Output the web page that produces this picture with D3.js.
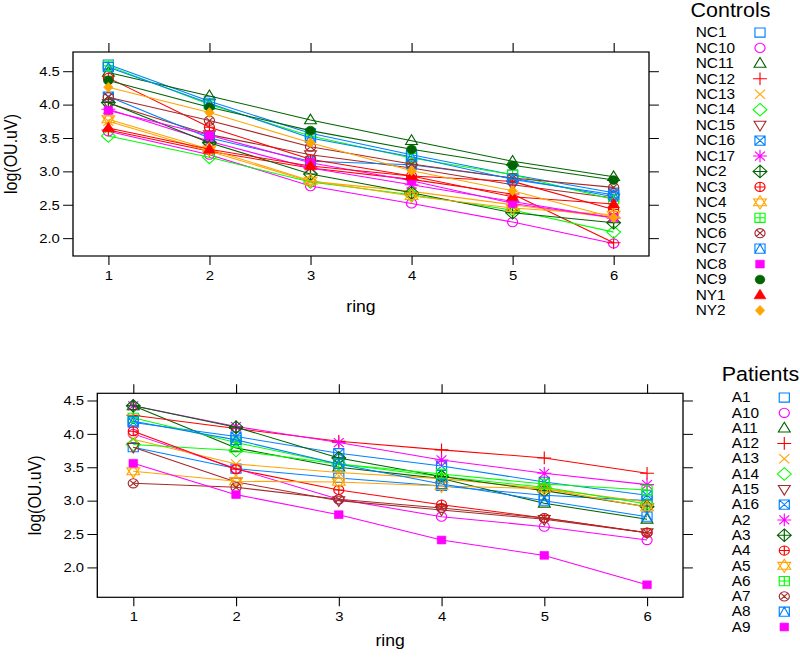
<!DOCTYPE html>
<html>
<head>
<meta charset="utf-8">
<script src="https://cdn.jsdelivr.net/npm/d3@7"></script>
<style>
  html, body { margin: 0; padding: 0; background: #ffffff; }
  svg { display: block; }
  text { font-family: "Liberation Sans", Arial, Helvetica, sans-serif; fill: #000; }
</style>
</head>
<body>
<svg id="chart"></svg>
<script>
// ---------------- DATA ----------------
const rings = [1, 2, 3, 4, 5, 6];
const yTickValues = [2.0, 2.5, 3.0, 3.5, 4.0, 4.5];

const controlTitle = "Controls";
const controlNames = ["NC1","NC10","NC11","NC12","NC13","NC14","NC15","NC16","NC17",
                      "NC2","NC3","NC4","NC5","NC6","NC7","NC8","NC9","NY1","NY2"];
const controlValues = [
  [4.60, 4.05, 3.57, 3.25, 2.95, 2.68], // NC1
  [3.60, 3.25, 2.78, 2.52, 2.24, 1.92], // NC10
  [4.48, 4.13, 3.77, 3.46, 3.15, 2.92], // NC11
  [3.62, 3.30, 3.05, 2.88, 2.66, 1.93], // NC12
  [3.75, 3.30, 2.85, 2.70, 2.50, 2.30], // NC13
  [3.53, 3.21, 2.84, 2.65, 2.42, 2.09], // NC14
  [4.02, 3.55, 3.25, 3.05, 2.80, 2.60], // NC15
  [4.12, 3.50, 3.15, 3.10, 2.90, 2.62], // NC16
  [3.93, 3.45, 3.05, 2.80, 2.55, 2.30], // NC17
  [4.03, 3.43, 2.96, 2.68, 2.38, 2.23], // NC2
  [4.40, 3.66, 3.18, 2.93, 2.85, 2.43], // NC3
  [3.78, 3.33, 2.86, 2.63, 2.45, 2.35], // NC4
  [4.58, 4.00, 3.53, 3.20, 2.95, 2.58], // NC5
  [4.11, 3.76, 3.37, 3.11, 2.90, 2.76], // NC6
  [4.56, 4.02, 3.50, 3.22, 2.88, 2.65], // NC7
  [3.91, 3.54, 3.13, 2.86, 2.52, 2.31], // NC8
  [4.36, 3.96, 3.61, 3.33, 3.09, 2.87], // NC9
  [3.65, 3.33, 3.08, 2.93, 2.62, 2.51], // NY1
  [4.26, 3.88, 3.43, 3.01, 2.71, 2.31]  // NY2
];

const patientTitle = "Patients";
const patientNames = ["A1","A10","A11","A12","A13","A14","A15","A16","A2",
                      "A3","A4","A5","A6","A7","A8","A9"];
const patientValues = [
  [3.80, 3.48, 3.34, 3.22, 3.08, 3.00], // A1
  [4.00, 3.48, 3.02, 2.76, 2.61, 2.41], // A10
  [4.42, 3.79, 3.50, 3.33, 2.96, 2.72], // A11
  [4.28, 4.08, 3.89, 3.76, 3.64, 3.41], // A12
  [3.92, 3.55, 3.42, 3.33, 3.18, 2.98], // A13
  [3.84, 3.75, 3.55, 3.36, 3.20, 2.95], // A14
  [3.80, 3.28, 3.00, 2.86, 2.72, 2.52], // A15
  [4.17, 3.96, 3.71, 3.52, 3.28, 3.08], // A16
  [4.42, 4.11, 3.87, 3.61, 3.41, 3.24], // A2
  [4.42, 4.10, 3.64, 3.36, 3.15, 2.91], // A3
  [4.04, 3.47, 3.16, 2.94, 2.74, 2.52], // A4
  [3.44, 3.29, 3.28, 3.22, 3.18, 2.90], // A5
  [4.24, 3.87, 3.55, 3.40, 3.25, 3.16], // A6
  [3.26, 3.20, 3.02, 2.89, 2.74, 2.52], // A7
  [4.19, 3.91, 3.55, 3.25, 3.00, 2.76], // A8
  [3.56, 3.09, 2.79, 2.41, 2.18, 1.74]  // A9
];

const xLabel = "ring";
const yLabel = "log(OU.uV)";

// lattice default superpose colours and symbols
const palette = ["#0080ff", "#ff00ff", "#006400", "#ff0000", "#ffa500", "#00ff00", "#a52a2a"];

// ---------------- LAYOUT ----------------
const W = 800, H = 663;
const SX = 1.1;               // horizontal stretch of the reference
const X = v => v / SX;        // real px -> inner coordinate

const svg = d3.select("#chart")
  .attr("width", W).attr("height", H)
  .attr("viewBox", `0 0 ${W / SX} ${H}`)
  .attr("preserveAspectRatio", "none");

function pchPath(p) {
  const P = d3.path();
  const circle = (r) => { P.moveTo(r, 0); P.arc(0, 0, r, 0, 2 * Math.PI); };
  const rect = (h) => { P.rect(-h, -h, 2 * h, 2 * h); };
  const line = (x1, y1, x2, y2) => { P.moveTo(x1, y1); P.lineTo(x2, y2); };
  const poly = (pts) => { P.moveTo(pts[0][0], pts[0][1]); pts.slice(1).forEach(q => P.lineTo(q[0], q[1])); P.closePath(); };
  const up = [[0, -5.8], [5.4, 3.8], [-5.4, 3.8]];
  const down = [[0, 5.8], [5.4, -3.8], [-5.4, -3.8]];
  switch (p) {
    case 0: rect(4.6); break;
    case 1: circle(4.6); break;
    case 2: poly(up); break;
    case 3: line(-6.3, 0, 6.3, 0); line(0, -6.3, 0, 6.3); break;
    case 4: line(-4.6, -4.6, 4.6, 4.6); line(-4.6, 4.6, 4.6, -4.6); break;
    case 5: poly([[0, -6.3], [6.3, 0], [0, 6.3], [-6.3, 0]]); break;
    case 6: poly(down); break;
    case 7: rect(4.6); line(-4.6, -4.6, 4.6, 4.6); line(-4.6, 4.6, 4.6, -4.6); break;
    case 8: line(-6.3, 0, 6.3, 0); line(0, -6.3, 0, 6.3); line(-4.5, -4.5, 4.5, 4.5); line(-4.5, 4.5, 4.5, -4.5); break;
    case 9: poly([[0, -6.3], [6.3, 0], [0, 6.3], [-6.3, 0]]); line(-6.3, 0, 6.3, 0); line(0, -6.3, 0, 6.3); break;
    case 10: circle(4.6); line(-4.6, 0, 4.6, 0); line(0, -4.6, 0, 4.6); break;
    case 11: poly([[0, -6.6], [5.8, 3.4], [-5.8, 3.4]]); poly([[0, 6.6], [5.8, -3.4], [-5.8, -3.4]]); break;
    case 12: rect(4.6); line(-4.6, 0, 4.6, 0); line(0, -4.6, 0, 4.6); break;
    case 13: circle(4.6); line(-3.25, -3.25, 3.25, 3.25); line(-3.25, 3.25, 3.25, -3.25); break;
    case 14: rect(4.6); poly([[0, -4.6], [4.6, 4.6], [-4.6, 4.6]]); break;
    case 15: rect(3.9); break;
    case 16: circle(4.4); break;
    case 17: poly(up); break;
    case 18: poly([[0, -5], [4.3, 0], [0, 5], [-4.3, 0]]); break;
  }
  return P.toString();
}
const filled = p => p >= 15;

function marker(g, p, col, x, y) {
  g.append("path")
    .attr("transform", `translate(${x},${y})`)
    .attr("d", pchPath(p))
    .attr("fill", filled(p) ? col : "none")
    .attr("stroke", col)
    .attr("stroke-width", filled(p) ? 0.6 : 1.05)
    .attr("stroke-linejoin", "miter");
}

function drawPanel(cfg) {
  const { names, values, left, right, top, bottom, title, legendTitleX, legendTitleY,
          legendTextX, legendSymX, legendRow0, legendStep, yLabelX, xLabelY } = cfg;

  const all = values.flat();
  const ymin = d3.min(all), ymax = d3.max(all);
  const pad = (ymax - ymin) * 0.07;
  const x = d3.scaleLinear().domain([0.65, 6.35]).range([X(left), X(right)]);
  const y = d3.scaleLinear().domain([ymin - pad, ymax + pad]).range([bottom, top]);

  const g = svg.append("g");

  // axes with outward ticks
  const tl = 9;
  const axB = d3.axisBottom(x).tickValues(rings).tickFormat(d3.format("d")).tickSize(tl).tickSizeOuter(0).tickPadding(5);
  const axT = d3.axisTop(x).tickValues(rings).tickFormat("").tickSize(tl).tickSizeOuter(0);
  const axL = d3.axisLeft(y).tickValues(yTickValues).tickFormat(d3.format(".1f")).tickSize(tl).tickSizeOuter(0).tickPadding(3);
  const axR = d3.axisRight(y).tickValues(yTickValues).tickFormat("").tickSize(tl).tickSizeOuter(0);

  const styleAxis = sel => {
    sel.select(".domain").remove();
    sel.selectAll(".tick line").attr("stroke", "#000").attr("stroke-width", 1);
    sel.selectAll(".tick text").attr("fill", "#000")
       .style("font-family", '"Liberation Sans", Arial, sans-serif').style("font-size", "13.5px");
  };
  g.append("g").attr("transform", `translate(0,${bottom})`).call(axB).call(styleAxis);
  g.append("g").attr("transform", `translate(0,${top})`).call(axT).call(styleAxis);
  g.append("g").attr("transform", `translate(${X(left)},0)`).call(axL).call(styleAxis);
  g.append("g").attr("transform", `translate(${X(right)},0)`).call(axR).call(styleAxis);

  // panel box
  g.append("rect")
    .attr("x", X(left)).attr("y", top)
    .attr("width", X(right) - X(left)).attr("height", bottom - top)
    .attr("fill", "none").attr("stroke", "#000").attr("stroke-width", 1.2);

  // series
  const line = d3.line().x((d, i) => x(rings[i])).y(d => y(d));
  names.forEach((nm, i) => {
    const col = palette[i % palette.length];
    const sg = g.append("g");
    sg.append("path").datum(values[i]).attr("d", line)
      .attr("fill", "none").attr("stroke", col).attr("stroke-width", 1.05);
    values[i].forEach((v, j) => marker(sg, i, col, x(rings[j]), y(v)));
  });

  // axis labels
  g.append("text")
    .attr("x", (X(left) + X(right)) / 2).attr("y", xLabelY)
    .attr("text-anchor", "middle").style("font-size", "16px").text(xLabel);
  g.append("text")
    .attr("transform", `translate(${X(yLabelX)},${(top + bottom) / 2}) rotate(-90)`)
    .attr("text-anchor", "middle").attr("dominant-baseline", "central")
    .style("font-size", "16px").text(yLabel);

  // legend
  const lg = svg.append("g");
  lg.append("text").attr("x", X(legendTitleX)).attr("y", legendTitleY)
    .attr("text-anchor", "middle").style("font-size", "19.5px").text(title);
  names.forEach((nm, i) => {
    const cy = legendRow0 + i * legendStep;
    lg.append("text").attr("x", X(legendTextX)).attr("y", cy)
      .attr("dominant-baseline", "central").style("font-size", "14px").text(nm);
    marker(lg, i, palette[i % palette.length], X(legendSymX), cy);
  });
}

drawPanel({
  names: controlNames, values: controlValues,
  left: 73, right: 649, top: 52, bottom: 256,
  title: controlTitle, legendTitleX: 730.5, legendTitleY: 17,
  legendTextX: 695.7, legendSymX: 760, legendRow0: 32.5, legendStep: 15.44,
  yLabelX: 11, xLabelY: 312
});

drawPanel({
  names: patientNames, values: patientValues,
  left: 97.3, right: 683, top: 393.3, bottom: 597.3,
  title: patientTitle, legendTitleX: 760.5, legendTitleY: 381,
  legendTextX: 731.7, legendSymX: 784.3, legendRow0: 397.5, legendStep: 15.3,
  yLabelX: 35, xLabelY: 646
});
</script>
</body>
</html>
